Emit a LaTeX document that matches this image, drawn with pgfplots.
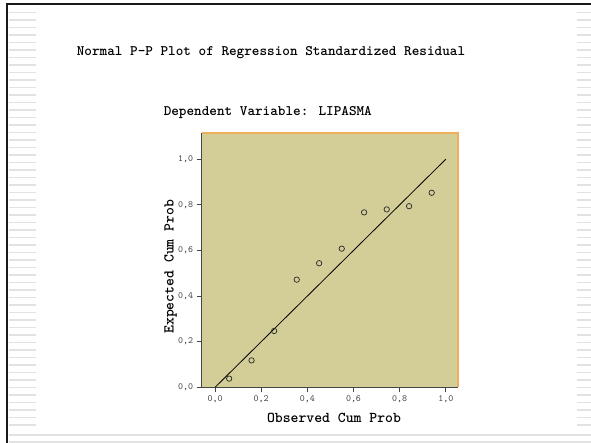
\documentclass[border=0pt]{standalone}
\usepackage{pgfplots}
\pgfplotsset{compat=1.18}
\usepackage{fontspec}
\definecolor{plotbg}{RGB}{211,206,152}
\definecolor{frameor}{RGB}{240,175,90}
\definecolor{stripe}{RGB}{226,226,226}
\definecolor{axgray}{RGB}{70,70,70}
\begin{document}
\begin{tikzpicture}
\path[use as bounding box, fill=white] (0,0) rectangle (591bp,-443bp);
% decorative slide stripes
\foreach \i in {0,...,55} {
  \pgfmathsetmacro\yy{12.3+7.5*\i}
  \draw[stripe, line width=1.6bp] (9bp,-\yy bp) -- (35.7bp,-\yy bp);
  \draw[stripe, line width=1.6bp] (576.7bp,-\yy bp) -- (591bp,-\yy bp);
}
\draw[stripe, line width=1.6bp] (9bp,-434.7bp) -- (591bp,-434.7bp);
\draw[stripe, line width=1.6bp] (9bp,-442bp) -- (591bp,-442bp);
\fill[black!90] (6bp,-3bp) rectangle (591bp,-5.2bp);
\fill[black!90] (6bp,-3bp) rectangle (8.2bp,-443bp);
% titles
\node[font=\ttfamily\bfseries\fontsize{14.5bp}{16bp}\selectfont] at (271bp,-53bp) {Normal P-P Plot of Regression Standardized Residual};
\node[font=\ttfamily\bfseries\fontsize{14.5bp}{16bp}\selectfont] at (267.8bp,-113bp) {Dependent Variable: LIPASMA};
\begin{axis}[
  at={(201.7bp,-387.3bp)}, anchor=south west,
  scale only axis, width=256.3bp, height=254.3bp,
  xmin=-0.058, xmax=1.053, ymin=0, ymax=1.115,
  axis background/.style={fill=plotbg},
  axis line style={draw=none},
  xtick={0,0.2,0.4,0.6,0.8,1.0},
  ytick={0,0.2,0.4,0.6,0.8,1.0},
  xtick pos=left, ytick pos=left,
  tick align=outside,
  major tick length=5bp,
  tick style={axgray, line width=0.8bp},
  /pgf/number format/assume math mode=true,
  /pgf/number format/use comma,
  /pgf/number format/fixed,
  /pgf/number format/fixed zerofill,
  /pgf/number format/precision=1,
  tick label style={font=\ttfamily\fontsize{9.5bp}{10bp}\selectfont, text=black!75},
  clip=false,
]
\draw[axgray, line width=0.9bp] (rel axis cs:0,1) -- (rel axis cs:0,0) -- (rel axis cs:1,0);
\draw[frameor, line width=1.2bp] (rel axis cs:0,1) -- (rel axis cs:1,1) -- (rel axis cs:1,0);
\addplot[black, line width=0.8bp, no marks] coordinates {(0,0) (1,1)};
\addplot[only marks, mark=o, mark size=2.7bp, mark options={black!85, line width=0.7bp}] coordinates {
(0.061,0.038) (0.158,0.118) (0.256,0.247) (0.354,0.472) (0.451,0.544)
(0.549,0.608) (0.646,0.767) (0.744,0.780) (0.841,0.794) (0.939,0.853)
};
\end{axis}
\node[font=\ttfamily\bfseries\fontsize{15bp}{16bp}\selectfont] at (334bp,-418bp) {Observed Cum Prob};
\node[font=\ttfamily\bfseries\fontsize{15bp}{16bp}\selectfont, rotate=90] at (170.7bp,-266.7bp) {Expected Cum Prob};
\end{tikzpicture}
\end{document}
